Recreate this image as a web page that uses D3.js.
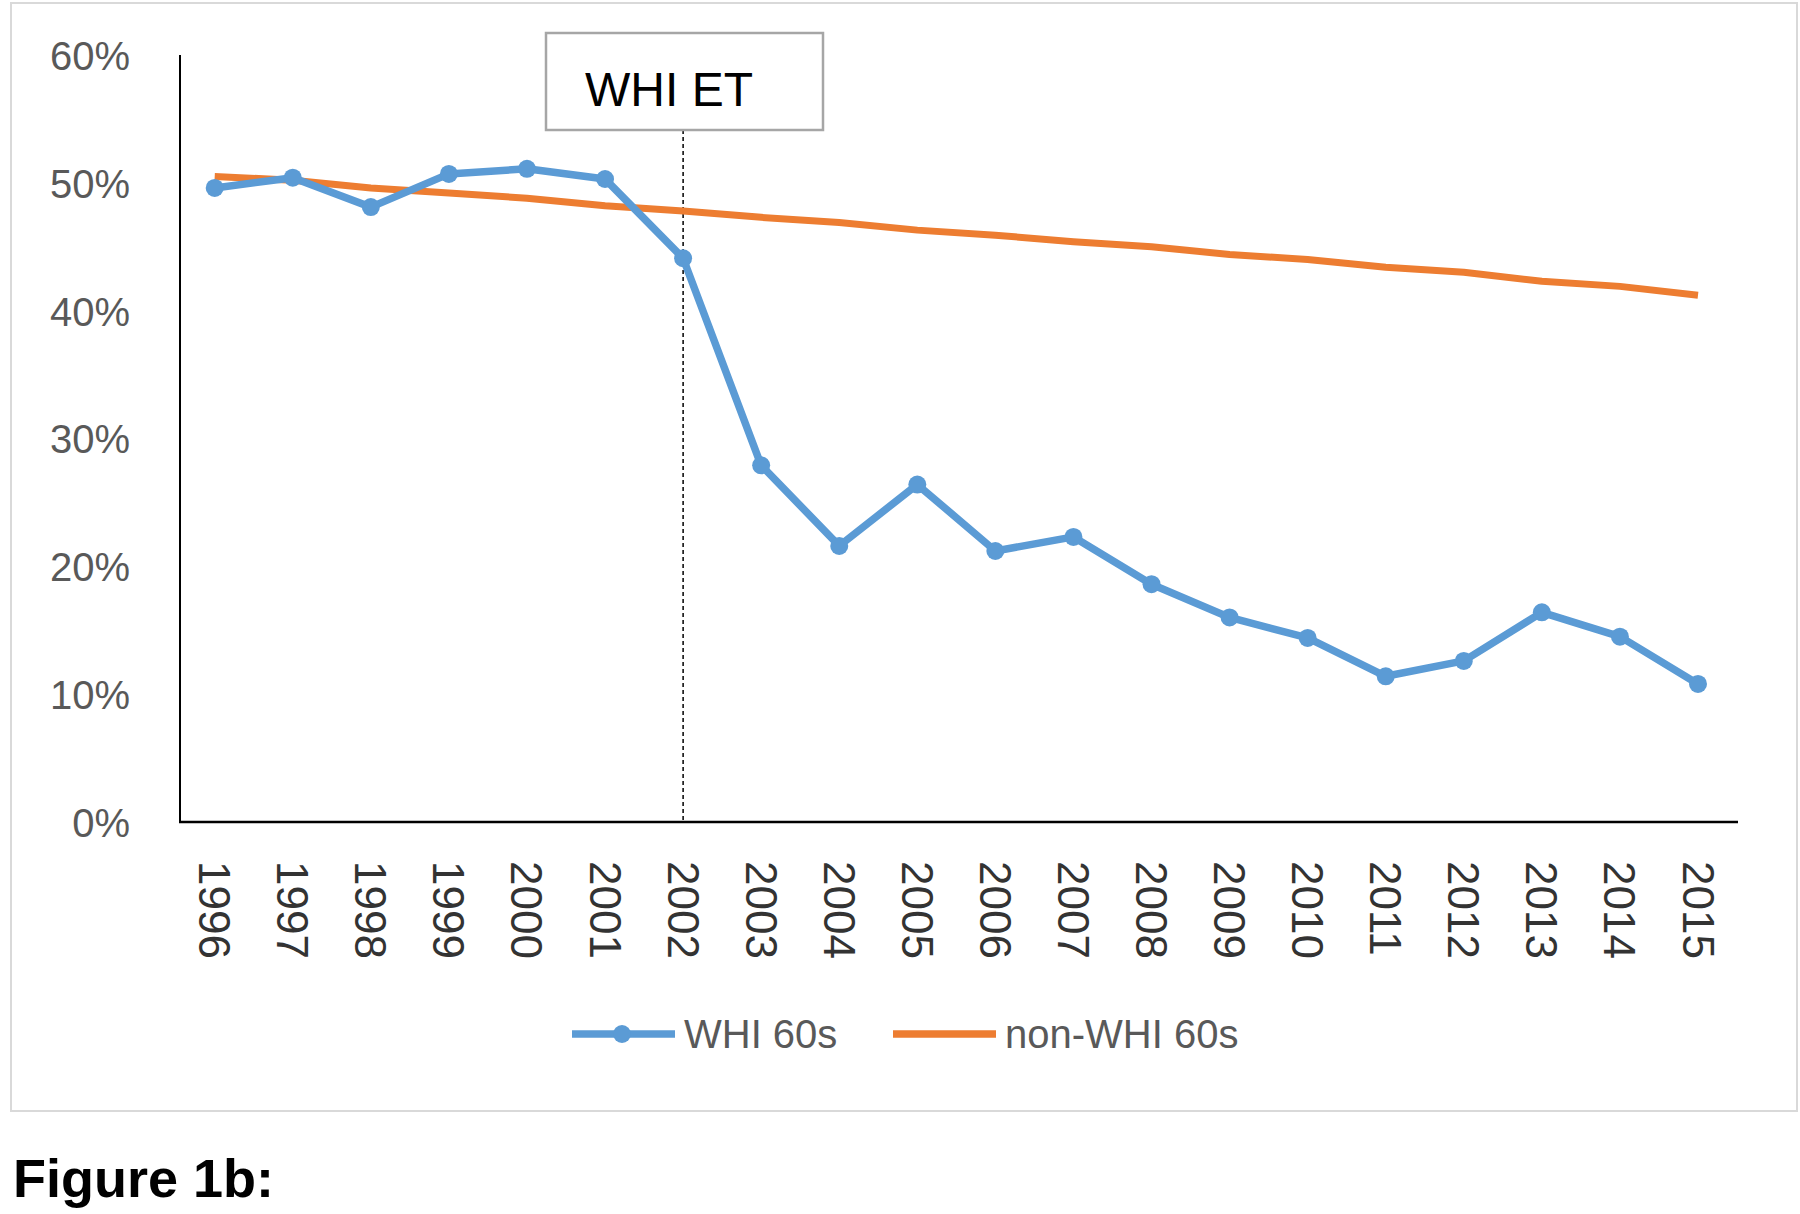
<!DOCTYPE html>
<html><head><meta charset="utf-8">
<script src="https://cdn.jsdelivr.net/npm/d3@7"></script>
<style>body{margin:0;background:#fff}svg{display:block}</style>
</head><body>
<script>
const years = ["1996","1997","1998","1999","2000","2001","2002","2003","2004","2005","2006","2007","2008","2009","2010","2011","2012","2013","2014","2015"];
const whi60s = [49.6,50.4,48.1,50.7,51.1,50.3,44.1,27.9,21.6,26.4,21.2,22.3,18.6,16.0,14.4,11.4,12.6,16.4,14.5,10.8];
const nonWhi60s = [50.5,50.2,49.6,49.2,48.8,48.2,47.8,47.3,46.9,46.3,45.9,45.4,45.0,44.4,44.0,43.4,43.0,42.3,41.9,41.2];
const yTicks = [0,10,20,30,40,50,60];
const seriesNames = ["WHI 60s","non-WHI 60s"];
const annotationYear = "2002";
const annotationText = "WHI ET";
const figureLabel = "Figure 1b:";

const W=1800,H=1214;
const svg=d3.select("body").append("svg").attr("width",W).attr("height",H);
const font="'Liberation Sans', Arial, sans-serif";

// chart frame
svg.append("rect").attr("x",11).attr("y",3).attr("width",1786).attr("height",1108)
  .attr("fill","#fff").attr("stroke","#d9d9d9").attr("stroke-width",2);

const x=d3.scalePoint().domain(years).range([214.7,1698]);
const y=d3.scaleLinear().domain([0,60]).range([822,55]);

// y labels
const yAxis=d3.axisLeft(y).tickValues(yTicks).tickFormat(d=>d+"%").tickSize(0).tickPadding(0);
const gy=svg.append("g").attr("transform","translate(130,0)").call(yAxis);
gy.select(".domain").remove();
gy.selectAll("text").attr("font-family",font).attr("font-size",40).attr("fill","#595959").attr("dy","0.36em");

// axis lines
svg.append("line").attr("x1",180).attr("x2",180).attr("y1",y(60)).attr("y2",y(0)).attr("stroke","#000").attr("stroke-width",2);
svg.append("line").attr("x1",179).attr("x2",1738).attr("y1",y(0)).attr("y2",y(0)).attr("stroke","#000").attr("stroke-width",2.5);

// x labels rotated
const xAxis=d3.axisBottom(x).tickSize(0).tickPadding(0);
const gx=svg.append("g").attr("transform","translate(0,"+y(0)+")").call(xAxis);
gx.select(".domain").remove();
gx.selectAll("text").attr("font-family",font).attr("font-size",44).attr("fill","#333")
  .attr("text-anchor","start").attr("dy",null).attr("y",0)
  .attr("transform","translate(-16,39) rotate(90)");

// annotation dashed line & box
const ax=x(annotationYear);
svg.append("line").attr("x1",ax).attr("x2",ax).attr("y1",130).attr("y2",y(0)).attr("stroke","#000").attr("stroke-width",1.5).attr("stroke-dasharray","4,3");
svg.append("rect").attr("x",546).attr("y",33).attr("width",277).attr("height",97).attr("fill","#fff").attr("stroke","#a6a6a6").attr("stroke-width",2.5);
svg.append("text").attr("x",585).attr("y",106).attr("font-family",font).attr("font-size",48).attr("fill","#000").text(annotationText);

// lines
const line=d3.line().x((d,i)=>x(years[i])).y(d=>y(d));
svg.append("path").datum(nonWhi60s).attr("d",line).attr("fill","none").attr("stroke","#ED7D31").attr("stroke-width",7).attr("stroke-linejoin","round");
svg.append("path").datum(whi60s).attr("d",line).attr("fill","none").attr("stroke","#5B9BD5").attr("stroke-width",7.5).attr("stroke-linejoin","round");
svg.selectAll("circle.m").data(whi60s).enter().append("circle").attr("class","m")
  .attr("cx",(d,i)=>x(years[i])).attr("cy",d=>y(d)).attr("r",9).attr("fill","#5B9BD5");

// legend
const ly=1034;
svg.append("line").attr("x1",572).attr("x2",675).attr("y1",ly).attr("y2",ly).attr("stroke","#5B9BD5").attr("stroke-width",7.5);
svg.append("circle").attr("cx",622).attr("cy",ly).attr("r",9).attr("fill","#5B9BD5");
svg.append("text").attr("x",684).attr("y",ly+14).attr("font-family",font).attr("font-size",40).attr("fill","#595959").text(seriesNames[0]);
svg.append("line").attr("x1",893).attr("x2",996).attr("y1",ly).attr("y2",ly).attr("stroke","#ED7D31").attr("stroke-width",7.5);
svg.append("text").attr("x",1005).attr("y",ly+14).attr("font-family",font).attr("font-size",40).attr("fill","#595959").text(seriesNames[1]);

// figure label
svg.append("text").attr("x",13).attr("y",1197).attr("font-family",font).attr("font-weight","bold").attr("font-size",54).attr("fill","#000").text(figureLabel);
</script>
</body></html>
